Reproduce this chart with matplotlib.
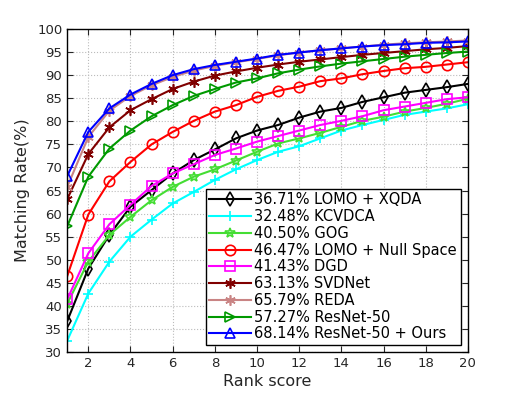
import matplotlib
matplotlib.use("Agg")
import matplotlib.pyplot as plt

ranks = list(range(1, 21))

lomo_xqda = [36.71, 48.1, 55.4, 61.5, 65.1, 68.7, 71.6, 73.9, 76.3, 78.0,
             79.2, 80.8, 82.1, 82.9, 84.2, 85.2, 86.2, 86.8, 87.4, 88.1]
kcvdca = [32.48, 42.7, 49.6, 55.0, 58.7, 62.2, 64.7, 67.3, 69.6, 71.6,
          73.4, 74.6, 76.3, 78.0, 79.2, 80.3, 81.4, 82.1, 82.8, 83.7]
gog = [40.50, 49.6, 55.4, 59.3, 62.9, 65.8, 68.0, 69.6, 71.5, 73.4,
       75.2, 76.3, 77.5, 78.8, 80.1, 81.0, 82.1, 82.9, 83.8, 84.9]
lomo_null = [46.47, 59.8, 67.0, 71.2, 75.0, 77.7, 80.1, 82.1, 83.5, 85.3,
             86.6, 87.5, 88.7, 89.3, 90.2, 90.9, 91.5, 91.8, 92.3, 92.8]
dgd = [41.43, 51.4, 57.7, 61.9, 66.0, 68.7, 70.7, 72.7, 74.1, 75.6,
       76.8, 78.0, 79.2, 80.1, 81.1, 82.4, 83.2, 84.0, 84.8, 85.2]
svdnet = [63.13, 72.9, 78.7, 82.4, 84.8, 87.0, 88.6, 89.9, 90.8, 91.6,
          92.3, 92.9, 93.4, 93.9, 94.4, 94.8, 95.2, 95.6, 95.9, 96.3]
reda = [65.79, 76.6, 82.3, 85.5, 87.8, 89.6, 91.0, 92.0, 92.8, 93.5,
        94.3, 94.9, 95.4, 95.8, 96.2, 96.6, 96.9, 97.1, 97.3, 97.5]
resnet = [57.27, 68.0, 74.1, 78.0, 81.1, 83.5, 85.5, 87.0, 88.4, 89.3,
          90.4, 91.2, 91.9, 92.5, 93.0, 93.5, 94.0, 94.4, 94.8, 95.1]
ours = [68.14, 77.7, 82.8, 85.8, 88.1, 90.0, 91.3, 92.2, 92.9, 93.6,
        94.4, 94.9, 95.4, 95.8, 96.2, 96.5, 96.7, 97.0, 97.1, 97.3]

labels = ["36.71% LOMO + XQDA", "32.48% KCVDCA", "40.50% GOG",
          "46.47% LOMO + Null Space", "41.43% DGD", "63.13% SVDNet",
          "65.79% REDA", "57.27% ResNet-50", "68.14% ResNet-50 + Ours"]
series = [lomo_xqda, kcvdca, gog, lomo_null, dgd, svdnet, reda, resnet, ours]
colors = ["black", "#00FFFF", "#44DD33", "#FF0000", "#FF00FF", "#800000",
          "#C98484", "#009900", "#0000FF"]
markers = ["d", "+", "*", "o", "s", (6, 2, 0), (6, 2, 0), ">", "^"]

fig = plt.figure(figsize=(5.17, 3.97), dpi=100)
ax = fig.add_axes([0.130, 0.113, 0.775, 0.814])

for vals, lab, c, m in zip(series, labels, colors, markers):
    ax.plot(ranks, vals, color=c, marker=m, markersize=7.5, linewidth=1.5,
            markerfacecolor="none", markeredgewidth=1.2, label=lab)

ax.set_xlim(1, 20)
ax.set_ylim(30, 100)
ax.set_xticks(range(2, 21, 2))
ax.set_yticks(range(30, 101, 5))
ax.tick_params(direction="in", length=4, top=True, right=True, labelsize=9.5,
               colors="#262626")
ax.grid(True, linestyle=":", color="#BBBBBB", linewidth=0.8)
ax.set_xlabel("Rank score", fontsize=11.5, color="#262626", labelpad=3)
ax.set_ylabel("Matching Rate(%)", fontsize=11.5, color="#262626", labelpad=5)
for s in ax.spines.values():
    s.set_linewidth(1.0)

leg = ax.legend(loc="lower right", bbox_to_anchor=(0.982, 0.022), fontsize=10.5,
                handlelength=2.9, handletextpad=0.2, labelspacing=0.12,
                borderpad=0.25, borderaxespad=0, fancybox=False, framealpha=1)
leg.get_frame().set_edgecolor("black")
leg.get_frame().set_linewidth(1.0)

fig.savefig("out.png", dpi=100)
